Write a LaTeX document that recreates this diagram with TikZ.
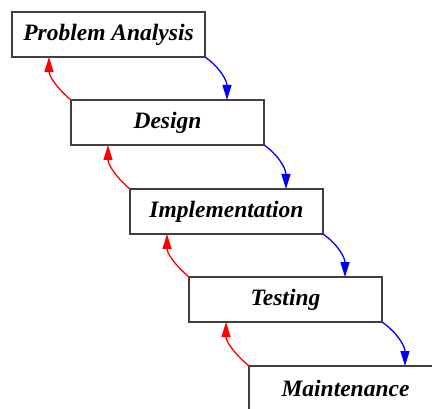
\documentclass[tikz,border=0pt]{standalone}
\usepackage{fontspec}
\setmainfont{Liberation Serif}
\usetikzlibrary{arrows.meta}
\tikzset{
  phase/.style={draw=black!75,line width=1.3pt,fill=white,rectangle,anchor=north west,
    minimum width=193pt,minimum height=45pt,inner sep=0pt,outer sep=0pt,
    font=\fontsize{23.5}{26}\selectfont\bfseries\itshape},
  bigtip/.tip={Triangle[length=15pt,width=9pt]},
  fwd/.style={draw=blue,line width=1.3pt,arrows={-bigtip}},
  back/.style={draw=red,line width=1.3pt,arrows={-bigtip}}
}
\begin{document}
\begin{tikzpicture}[x=1pt,y=1pt]
\clip (0,0) rectangle (432,408);
\fill[white] (0,0) rectangle (432,408);
\node[phase] (pa) at (12,396) {Problem Analysis};
\node[phase] (de) at (71,308) {Design};
\node[phase] (im) at (130,219) {Implementation};
\node[phase] (te) at (189,131) {Testing};
\node[phase] (ma) at (249,42) {Maintenance};
\draw[fwd] (pa.south east) to[out=-35,in=90] ([xshift=-37pt]de.north east);
\draw[fwd] (de.south east) to[out=-35,in=90] ([xshift=-37pt]im.north east);
\draw[fwd] (im.south east) to[out=-35,in=90] ([xshift=-37pt]te.north east);
\draw[fwd] (te.south east) to[out=-35,in=90] ([xshift=-37pt]ma.north east);
\draw[back] (de.north west) to[out=140,in=-90] ([xshift=37pt]pa.south west);
\draw[back] (im.north west) to[out=140,in=-90] ([xshift=37pt]de.south west);
\draw[back] (te.north west) to[out=140,in=-90] ([xshift=37pt]im.south west);
\draw[back] (ma.north west) to[out=140,in=-90] ([xshift=37pt]te.south west);
\end{tikzpicture}
\end{document}
